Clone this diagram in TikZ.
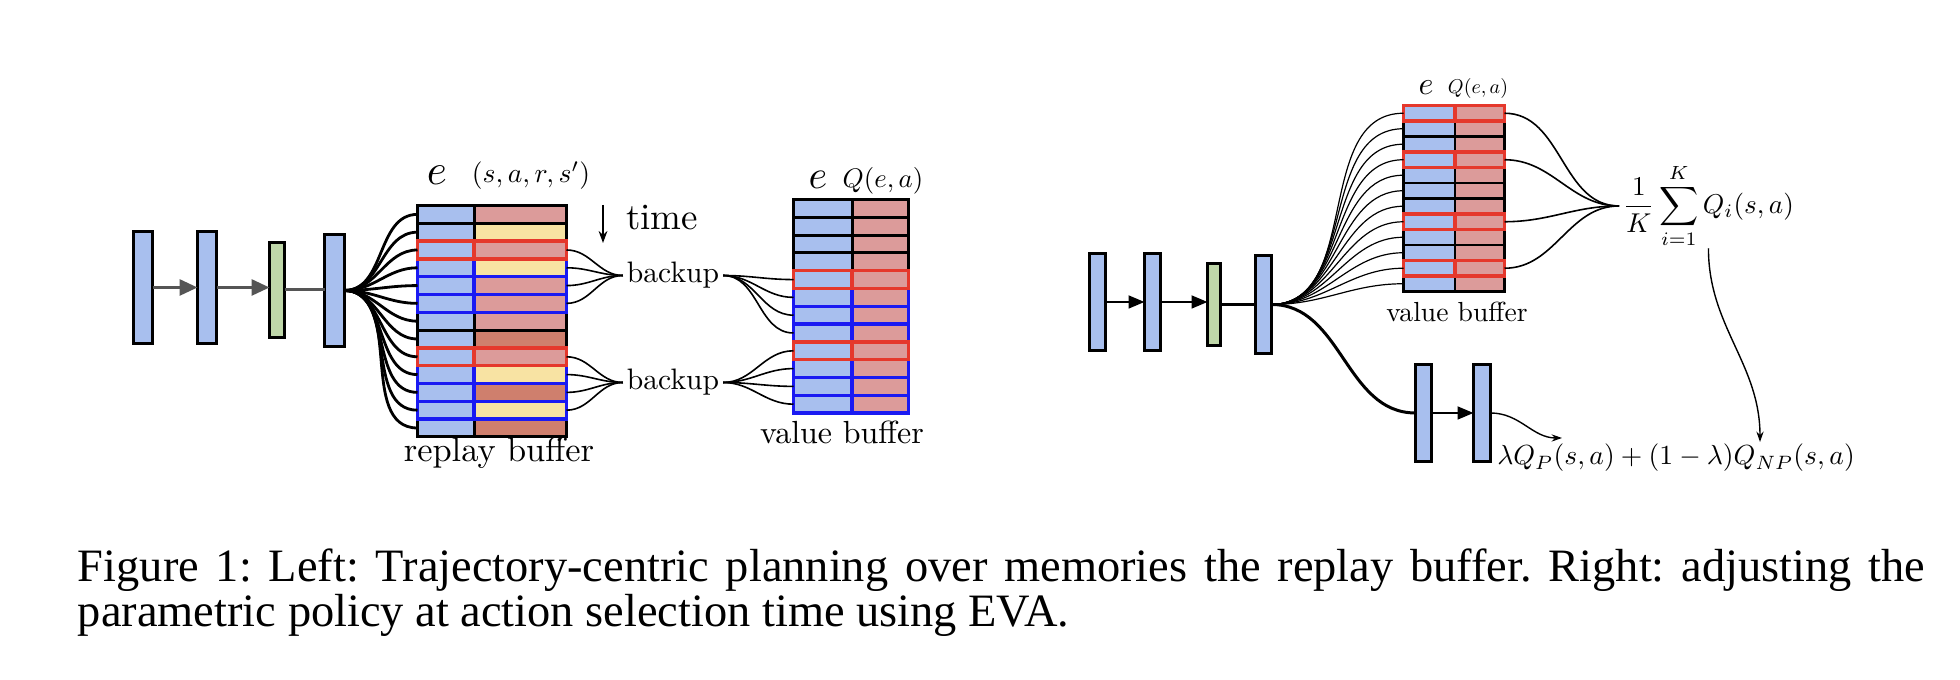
\RequirePackage{fix-cm}
\documentclass[tikz,border=0pt]{standalone}
\usepackage{amsmath}
\usepackage{graphicx}
\usepackage{fontspec}
\newfontfamily\capfont{Liberation Serif}
\usetikzlibrary{arrows.meta}
\definecolor{cBlue}{HTML}{A8BFEE}
\definecolor{cP}{HTML}{DC9B9A}
\definecolor{cY}{HTML}{F8E3A3}
\definecolor{cD}{HTML}{CF7F6D}
\definecolor{cGreen}{HTML}{BFD7A9}
\definecolor{cRed}{HTML}{E5382C}
\definecolor{cBlueLine}{HTML}{1A1AF2}
\definecolor{cGray}{HTML}{555555}
\newcommand\sz[2]{\scalebox{#1}{\fontsize{10pt}{12pt}\selectfont #2}}
\begin{document}
\begin{tikzpicture}[x=0.25pt,y=-0.25pt,
  net/.style={draw=black, line width=0.75pt, fill=cBlue, inner sep=0pt, outer sep=0pt},
  netg/.style={net, fill=cGreen},
  rnet/.style={net, line width=0.65pt},
  rnetg/.style={rnet, fill=cGreen},
  cell/.style={draw=black, line width=0.75pt, inner sep=0pt, outer sep=0pt, anchor=north west},
  rcell/.style={cell, line width=0.65pt},
  fanthick/.style={line width=0.7pt},
  fanthin/.style={line width=0.4pt},
  fanhair/.style={line width=0.3pt},
  garrow/.style={draw=cGray, line width=0.75pt, -{Triangle[length=4.5pt,width=4pt]}},
  barrow/.style={draw=black, line width=0.6pt, -{Triangle[length=4pt,width=3.2pt]}},
  tarrow/.style={line width=0.35pt, -{Stealth[length=2.6pt,width=1.8pt]}},
  redbox/.style={draw=cRed, line width=0.85pt},
  bluebox/.style={draw=cBlueLine, line width=0.85pt},
  rredbox/.style={draw=cRed, line width=0.8pt},
  lbl/.style={inner sep=0pt, outer sep=0pt}
]
\useasboundingbox (0,0) rectangle (1960,680);
\fill[white] (0,0) rectangle (1960,680);

% ---------------- left network ----------------
\node[net, minimum width=4.75pt, minimum height=28pt] (n1) at (143,287.5) {};
\node[net, minimum width=4.75pt, minimum height=28pt] (n2) at (207,287.5) {};
\node[netg, minimum width=3.75pt, minimum height=23.75pt] (g) at (277,290) {};
\node[net, minimum width=5pt, minimum height=28pt] (n4) at (334.5,290.5) {};
\draw[garrow] (n1.east) -- (n2.west);
\draw[garrow] (n2.east) -- (n2.east -| g.west);
\draw[draw=cGray, line width=0.75pt] (g.east) -- (g.east -| n4.west);

% ---------------- replay buffer ----------------
\foreach \cc [count=\i] in {P,Y,P,Y,P,P,P,D,P,Y,D,Y,D}{
  \node[cell, fill=cBlue, minimum width=14.125pt, minimum height=4.45pt] (rbL\i) at (417.5,{205.5+(\i-1)*17.8}) {};
  \node[cell, fill=c\cc, minimum width=23.125pt, minimum height=4.45pt] (rbR\i) at (474,{205.5+(\i-1)*17.8}) {};
}
\foreach \i in {4,5,6,10,11,12}
  \draw[bluebox] (rbL\i.north west) rectangle (rbR\i.south east) (rbL\i.north east) -- (rbL\i.south east);
\foreach \i in {3,9}
  \draw[redbox] (rbL\i.north west) rectangle (rbR\i.south east) (rbL\i.north east) -- (rbL\i.south east);

\foreach \i in {1,...,13}
  \draw[fanthick] (n4.east) to[out=0,in=180] (rbL\i.west);

% ---------------- left value buffer ----------------
\foreach \i in {1,...,12}{
  \node[cell, fill=cBlue, minimum width=14.625pt, minimum height=4.45pt] (vbL\i) at (793.5,{199.5+(\i-1)*17.8}) {};
  \node[cell, fill=cP, minimum width=14.125pt, minimum height=4.45pt] (vbR\i) at (852,{199.5+(\i-1)*17.8}) {};
}
\foreach \i in {6,7,8,10,11,12}
  \draw[bluebox] (vbL\i.north west) rectangle (vbR\i.south east) (vbL\i.north east) -- (vbL\i.south east);
\foreach \i in {5,9}
  \draw[redbox] (vbL\i.north west) rectangle (vbR\i.south east) (vbL\i.north east) -- (vbL\i.south east);

% ---------------- backups ----------------
\node[lbl, inner xsep=1pt] (bk1) at (673,275.5) {\sz{0.74}{backup}};
\node[lbl, inner xsep=1pt] (bk2) at (673,382.5) {\sz{0.74}{backup}};
\foreach \i in {3,4,5,6}
  \draw[fanthin] (rbR\i.east) to[out=0,in=180] (bk1.west);
\foreach \i in {9,10,11,12}
  \draw[fanthin] (rbR\i.east) to[out=0,in=180] (bk2.west);
\foreach \i in {5,6,7,8}
  \draw[fanthin] (bk1.east) to[out=0,in=180] (vbL\i.west);
\foreach \i in {9,10,11,12}
  \draw[fanthin] (bk2.east) to[out=0,in=180] (vbL\i.west);

% ---------------- left labels ----------------
\node[lbl] (eL) at (437,175) {\sz{1.075}{$e$}};
\node[lbl] (sars) at (531,175.5) {\sz{0.69}{$(s,a,r,s')$}};
\node[lbl] (time) at (662,218) {\sz{0.925}{time}};
\coordinate (t0) at (603,205);
\coordinate (t1) at (603,243);
\draw[line width=0.4pt, -{Stealth[length=3pt,width=2.2pt]}] (t0) -- (t1);
\node[lbl] (rblab) at (499,453) {\sz{0.86}{replay buffer}};
\node[lbl] (eV) at (818,180) {\sz{1.0}{$e$}};
\node[lbl] (QV) at (883,181) {\sz{0.67}{$Q(e,a)$}};
\node[lbl] (vblab) at (842,432) {\sz{0.8}{value buffer}};

% ---------------- right network ----------------
\node[rnet, minimum width=4pt, minimum height=24.25pt] (r1) at (1097.5,302) {};
\node[rnet, minimum width=4pt, minimum height=24.25pt] (r2) at (1152.5,302) {};
\node[rnetg, minimum width=3.25pt, minimum height=20.5pt] (rg) at (1214,304.5) {};
\node[rnet, minimum width=4pt, minimum height=24.5pt] (r4) at (1263.5,304.5) {};
\node[rnet, minimum width=4pt, minimum height=24.25pt] (r5) at (1423.5,413) {};
\node[rnet, minimum width=4.25pt, minimum height=24.25pt] (r6) at (1482,413) {};
\draw[barrow] (r1.east) -- (r2.west);
\draw[barrow] (r2.east) -- (r2.east -| rg.west);
\draw[line width=0.6pt] (rg.east) -- (rg.east -| r4.west);
\draw[barrow] (r5.east) -- (r6.west);
\draw[line width=0.75pt] (r4.east) to[out=0,in=180] (r5.west);

% ---------------- right value buffer ----------------
\foreach \i in {1,...,12}{
  \node[rcell, fill=cBlue, minimum width=12.875pt, minimum height=3.875pt] (vrL\i) at (1403.5,{105.5+(\i-1)*15.5}) {};
  \node[rcell, fill=cP, minimum width=12.375pt, minimum height=3.875pt] (vrR\i) at (1455,{105.5+(\i-1)*15.5}) {};
}
\foreach \i in {1,4,8,11}
  \draw[rredbox] (vrL\i.north west) rectangle (vrR\i.south east) (vrL\i.north east) -- (vrL\i.south east);
\foreach \i in {1,...,12}
  \draw[fanhair] (r4.east) to[out=0,in=180] (vrL\i.west);

\node[lbl] (eR) at (1426,88) {\sz{0.8}{$e$}};
\node[lbl] (QR) at (1478,89) {\sz{0.5}{$Q(e,a)$}};
\node[lbl] (vrlab) at (1457,312) {\sz{0.69}{value buffer}};

% ---------------- formulas ----------------
\node[lbl, inner xsep=1pt, anchor=west] (avg) at (1619,206) {\sz{0.68}{$\displaystyle\frac{1}{K}\sum_{i=1}^{K}Q_i(s,a)$}};
\foreach \i in {1,4,8,11}
  \draw[fanthin] (vrR\i.east) to[out=0,in=180] (avg.west);
\node[lbl] (mix) at (1676,458) {\sz{0.69}{$\lambda Q_P(s,a)+(1-\lambda)Q_{NP}(s,a)$}};
\coordinate (pend) at (1562,438);
\coordinate (mend) at (1760,442);
\draw[tarrow] (r6.east) to[out=0,in=180] (pend);
\draw[tarrow] (avg.south) to[out=-90,in=90] (mend);

% ---------------- caption ----------------
\node[lbl, anchor=north west, text width=461.75pt, align=justify,
      font={\capfont\fontsize{11.6pt}{11.1pt}\selectfont\frenchspacing\hyphenpenalty=10000\exhyphenpenalty=10000\tolerance=10000}]
  (cap) at (78,549) {Figure 1: Left: Trajectory-centric planning over memories the replay buffer. Right: adjusting the parametric policy at action selection time using EVA.};
\end{tikzpicture}
\end{document}
